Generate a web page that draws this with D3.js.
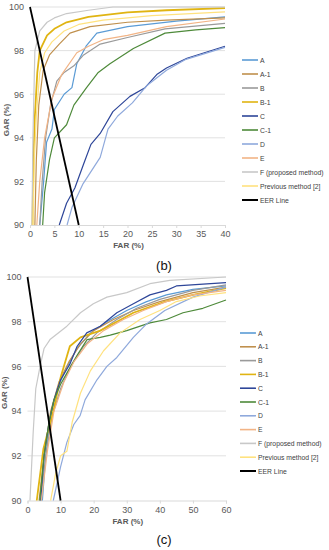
<!DOCTYPE html>
<html>
<head>
<meta charset="utf-8">
<script src="https://cdn.jsdelivr.net/npm/d3@7"></script>
<style>
  body { margin: 0; background: #fff; }
  svg { display: block; font-family: "Liberation Sans", Arial, sans-serif; }
</style>
</head>
<body>
<svg id="fig" width="329" height="550"></svg>
<script>
// series names and colours (same for both panels)
const seriesNames = ["A", "A-1", "B", "B-1", "C", "C-1", "D", "E", "F (proposed method)", "Previous method [2]", "EER Line"];
const seriesColors = ["#5b9bd5", "#c0904d", "#9a9a9a", "#e0b412", "#2e4699", "#4e8a3a", "#8fa9dc", "#f2b486", "#c8c8c8", "#ffe27f", "#000000"];

// ---- panel (b): [FAR, GAR] ----
const b_A   = [[2,90],[2.8,92],[3.4,93.8],[4.5,94.4],[5,95.3],[7,96],[8.6,96.3],[9.6,97.4],[11.5,98.2],[13.7,98.8],[20,99.1],[30,99.35],[40,99.55]];
const b_A1  = [[1,90],[1.3,93],[1.8,95.5],[2.7,97.1],[4,97.8],[6,98.3],[8.2,98.8],[12.3,99.1],[20,99.3],[28,99.4],[40,99.5]];
const b_B   = [[2,90],[2.5,92],[3.2,94],[4.2,95.5],[5.5,96.6],[7,97],[9,97.3],[11,97.8],[14.4,98.3],[20,98.6],[27.7,99],[40,99.25]];
const b_B1  = [[0.5,90],[0.7,93],[1,95],[1.5,97],[2,98],[3.5,98.7],[5,99],[7.5,99.3],[12,99.55],[20,99.75],[28,99.85],[40,99.95]];
const b_C   = [[6,90],[7.5,91],[9.2,91.7],[11,92.8],[12.5,93.7],[14.4,94.2],[17,95.2],[20.5,95.9],[23.6,96.3],[26,96.9],[28,97.2],[32.2,97.65],[40,98.2]];
const b_C1  = [[2.6,90],[3,91.5],[4,93],[5,94],[7.5,94.6],[9,95.5],[11.6,96.3],[14,97],[16.4,97.4],[21.2,98.1],[27.7,98.8],[34,98.95],[40,99.05]];
const b_D   = [[7.6,90],[8.6,90.8],[10.9,91.9],[14.4,93.1],[16,94.4],[18,95],[21,95.6],[24,96.4],[28,97.1],[32,97.6],[40,98.15]];
const b_E   = [[1.4,90],[2,92],[3,94],[4.5,95.8],[6.5,96.9],[9.6,97.9],[12,98.2],[15,98.5],[20,98.7],[28,99.1],[40,99.45]];
const b_F   = [[0.4,90],[0.6,94],[1,98],[2,98.9],[3.5,99.3],[5,99.5],[7.5,99.7],[12,99.85],[17,100],[40,100]];
const b_Prev= [[0.6,90],[0.9,93],[1.3,95],[2,97],[3,97.9],[4.5,98.4],[7,98.9],[10,99.2],[15,99.4],[25,99.6],[40,99.78]];
const b_EER = [[0,100],[10,90]];
const b_xTicks = [0,5,10,15,20,25,30,35,40];

// ---- panel (c): [FAR, GAR] ----
const c_A   = [[4.5,90],[5.5,92],[7,93.8],[9,95],[12,96],[15,96.8],[19,97.5],[24,98],[30,98.5],[36,98.9],[42,99.2],[50,99.45],[60,99.6]];
const c_A1  = [[3.5,90],[5,92],[7,94],[9.5,95.3],[12.5,96.2],[16,97],[20,97.6],[26,98.1],[32,98.5],[40,98.9],[50,99.3],[60,99.55]];
const c_B   = [[4,90],[5.5,92],[7.5,93.8],[10,95],[13,96],[17,96.9],[21,97.5],[27,98.1],[33,98.6],[40,99],[50,99.4],[60,99.65]];
const c_B1  = [[2.8,90],[4.8,92.3],[7.8,94],[10,95.5],[12.8,96.9],[16,97.3],[22,97.6],[27,98],[32,98.4],[41.6,98.9],[50,99.2],[60,99.5]];
const c_C   = [[4,90],[5,92],[6.5,93.5],[8,94.5],[10,95.4],[12.8,96.1],[15,96.9],[17.9,97.5],[22,97.8],[27,98.4],[32,98.8],[37,99.2],[42,99.4],[45,99.6],[60,99.75]];
const c_C1  = [[3.7,90],[5,92],[6.5,93.5],[8,94.5],[10,95.2],[11.9,95.7],[15,96.5],[18,97.2],[22,97.3],[25,97.4],[30,97.6],[37,97.95],[42,98.1],[47,98.4],[53,98.6],[60,98.97]];
const c_D   = [[7.8,90],[10,91.5],[11.9,92.6],[14,93.4],[15.9,93.8],[17.4,94.5],[21,95.4],[24,96],[27,96.4],[32,97.3],[36,97.9],[41.5,98.5],[50,99.1],[60,99.55]];
const c_E   = [[4.2,90],[6,92.2],[8,94],[11,95.3],[14,96.2],[18,97],[23,97.6],[29,98.1],[35,98.5],[42,98.9],[50,99.2],[60,99.4]];
const c_F   = [[0.75,90],[1.7,93],[2.5,95],[3.8,96],[5,96.8],[6.8,97.2],[11.9,97.8],[16,98.4],[19.9,98.8],[24,99.1],[30,99.3],[37,99.7],[43,99.85],[60,100]];
const c_Prev= [[7,90],[8.5,91.2],[10,92],[11.9,92.2],[13.5,93.5],[16,94.8],[19,95.8],[23,96.7],[28,97.5],[34,98.1],[40,98.5],[45,98.9],[52,99.15],[60,99.3]];
const c_EER = [[0,100],[10,90]];
const c_xTicks = [0,10,20,30,40,50,60];

const yTicks = [90,92,94,96,98,100];

const svg = d3.select("#fig");

const drawPanel = (opt) => {
  const x = d3.scaleLinear().domain([0, opt.xMax]).range([opt.left, opt.right]);
  const y = d3.scaleLinear().domain([90, 100]).range([opt.bottom, opt.top]);
  const g = svg.append("g");

  // gridlines
  g.append("g").selectAll("line").data(yTicks.slice(1)).enter().append("line")
    .attr("x1", opt.left).attr("x2", opt.right)
    .attr("y1", d => y(d)).attr("y2", d => y(d))
    .attr("stroke", "#d9d9d9").attr("stroke-width", 0.8);

  // x axis
  const xa = g.append("g").attr("transform", `translate(0,${opt.bottom})`)
    .call(d3.axisBottom(x).tickValues(opt.xTicks).tickSize(3).tickPadding(3).tickFormat(d3.format("d")));
  xa.select(".domain").attr("stroke", "#d9d9d9");
  xa.selectAll(".tick line").attr("stroke", "#d9d9d9");
  xa.selectAll("text").attr("font-size", 9).attr("fill", "#595959").attr("font-family", null);

  // y axis (labels only)
  const ya = g.append("g").attr("transform", `translate(${opt.left},0)`)
    .call(d3.axisLeft(y).tickValues(yTicks).tickSize(0).tickPadding(6).tickFormat(d3.format("d")));
  ya.select(".domain").remove();
  ya.selectAll("text").attr("font-size", 9).attr("fill", "#595959").attr("font-family", null);

  // axis titles
  g.append("text").attr("x", (opt.left + opt.right) / 2 + 1).attr("y", opt.bottom + 23)
    .attr("text-anchor", "middle").attr("font-size", 8).attr("font-weight", "bold").attr("fill", "#595959")
    .text("FAR (%)");
  g.append("text").attr("transform", `translate(${opt.left - 21},${(opt.top + opt.bottom) / 2 + 4}) rotate(-90)`)
    .attr("text-anchor", "middle").attr("font-size", 8).attr("font-weight", "bold").attr("fill", "#595959")
    .text("GAR (%)");

  // curves
  const line = d3.line().x(d => x(d[0])).y(d => y(d[1]));
  g.append("g").selectAll("path").data(opt.series).enter().append("path")
    .attr("d", d => line(d))
    .attr("fill", "none")
    .attr("stroke", (d, i) => seriesColors[i])
    .attr("stroke-width", (d, i) => i === 10 ? 1.8 : (i === 3 ? 1.8 : 1.2))
    .attr("stroke-linejoin", "round");

  // legend
  const lg = g.append("g").selectAll("g").data(seriesNames).enter().append("g")
    .attr("transform", (d, i) => `translate(${opt.legX},${opt.legY + i * opt.legStep})`);
  lg.append("line").attr("x1", 0).attr("x2", 16).attr("y1", 0).attr("y2", 0)
    .attr("stroke", (d, i) => seriesColors[i]).attr("stroke-width", (d, i) => i === 10 ? 2 : 1.6);
  lg.append("text").attr("x", 18).attr("y", 2.5).attr("font-size", 6.8).attr("fill", "#404040").text(d => d);

  // panel label
  svg.append("text").attr("x", opt.labX).attr("y", opt.labY).attr("text-anchor", "middle")
    .attr("font-size", 13).attr("fill", "#111").text(opt.label);
};

drawPanel({
  xMax: 40, xTicks: b_xTicks, left: 30, right: 225, top: 7, bottom: 225,
  series: [b_A, b_A1, b_B, b_B1, b_C, b_C1, b_D, b_E, b_F, b_Prev, b_EER],
  legX: 242, legY: 60, legStep: 14, label: "(b)", labX: 164, labY: 270
});

drawPanel({
  xMax: 60, xTicks: c_xTicks, left: 27.5, right: 226, top: 277, bottom: 500.5,
  series: [c_A, c_A1, c_B, c_B1, c_C, c_C1, c_D, c_E, c_F, c_Prev, c_EER],
  legX: 240, legY: 333, legStep: 13.8, label: "(c)", labX: 164, labY: 544
});
</script>
</body>
</html>
